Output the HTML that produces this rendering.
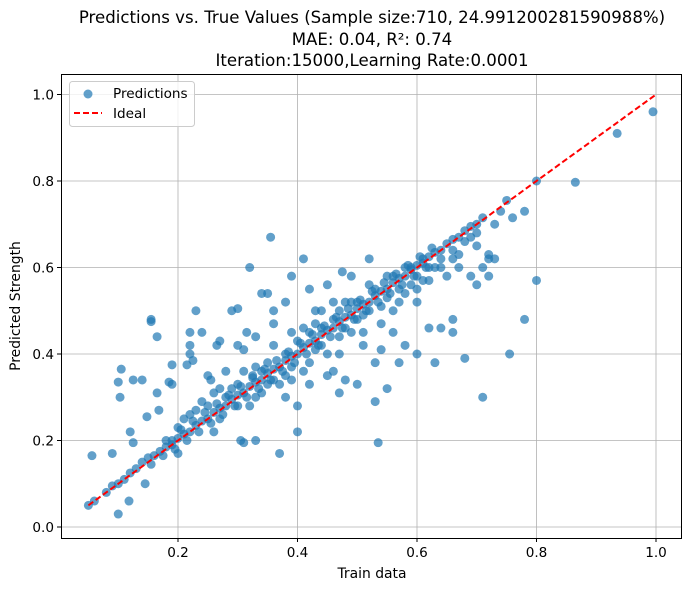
<!DOCTYPE html>
<html><head><meta charset="utf-8"><style>
body{margin:0;background:#fff;font-family:"DejaVu Sans","Liberation Sans",sans-serif;}
svg text{font-family:"DejaVu Sans","Liberation Sans",sans-serif;}
</style></head><body>
<svg id="c" width="691" height="589" xmlns="http://www.w3.org/2000/svg">
<text x="372" y="23" text-anchor="middle" font-size="16.6">Predictions vs. True Values (Sample size:710, 24.991200281590988%)</text>
<text x="372" y="45" text-anchor="middle" font-size="16.6">MAE: 0.04, R²: 0.74</text>
<text x="372" y="66" text-anchor="middle" font-size="16.6">Iteration:15000,Learning Rate:0.0001</text>
<g id="grid"></g><g id="pts"></g><g id="line"></g>
<rect x="61.5" y="74.5" width="620" height="464" fill="none" stroke="#000" stroke-width="1"/>
<g id="ticks"></g>
<text x="372" y="578" text-anchor="middle" font-size="13.9">Train data</text>
<text x="20" y="306" text-anchor="middle" font-size="13.9" transform="rotate(-90 20 306)">Predicted Strength</text>
<g>
<rect x="69.5" y="81.5" width="125" height="45" rx="3" fill="#fff" fill-opacity="0.8" stroke="#ccc"/>
<circle cx="88" cy="94" r="4.5" fill="#1f77b4" fill-opacity="0.7"/>
<text x="113" y="98" font-size="13.6">Predictions</text>
<line x1="74" y1="113" x2="102" y2="113" stroke="red" stroke-width="2" stroke-dasharray="6,3"/>
<text x="113" y="118" font-size="13.6">Ideal</text>
</g>
</svg>
<script>
const xTicks=[0.2,0.4,0.6,0.8,1.0];
const xTickLabels=["0.2","0.4","0.6","0.8","1.0"];
const yTicks=[0.0,0.2,0.4,0.6,0.8,1.0];
const yTickLabels=["0.0","0.2","0.4","0.6","0.8","1.0"];
const idealX=[0.05,1.0];
const idealY=[0.05,1.0];
const points=[[0.056,0.165],[0.09,0.17],[0.1,0.335],[0.105,0.365],[0.103,0.30],[0.1,0.03],[0.118,0.06],[0.12,0.22],[0.125,0.195],[0.125,0.34],[0.14,0.34],[0.148,0.255],[0.155,0.475],[0.155,0.48],[0.165,0.44],[0.165,0.31],[0.168,0.27],[0.145,0.10],[0.185,0.335],[0.19,0.375],[0.19,0.33],[0.19,0.20],[0.215,0.375],[0.22,0.40],[0.22,0.42],[0.22,0.45],[0.225,0.385],[0.23,0.50],[0.24,0.45],[0.25,0.35],[0.255,0.34],[0.26,0.31],[0.265,0.42],[0.27,0.43],[0.28,0.36],[0.29,0.50],[0.3,0.505],[0.3,0.42],[0.31,0.41],[0.305,0.20],[0.31,0.195],[0.315,0.45],[0.32,0.60],[0.325,0.35],[0.33,0.44],[0.33,0.20],[0.34,0.54],[0.35,0.54],[0.355,0.67],[0.36,0.47],[0.36,0.50],[0.37,0.17],[0.38,0.52],[0.39,0.58],[0.39,0.45],[0.4,0.22],[0.4,0.28],[0.41,0.62],[0.42,0.55],[0.43,0.50],[0.45,0.56],[0.46,0.52],[0.46,0.36],[0.47,0.31],[0.475,0.59],[0.48,0.34],[0.48,0.52],[0.49,0.58],[0.5,0.33],[0.51,0.45],[0.52,0.62],[0.53,0.38],[0.53,0.29],[0.535,0.195],[0.54,0.41],[0.55,0.32],[0.56,0.45],[0.57,0.38],[0.58,0.42],[0.59,0.60],[0.6,0.40],[0.61,0.62],[0.62,0.46],[0.63,0.38],[0.64,0.46],[0.65,0.58],[0.66,0.48],[0.66,0.45],[0.67,0.60],[0.68,0.39],[0.69,0.58],[0.7,0.56],[0.71,0.30],[0.72,0.58],[0.71,0.60],[0.72,0.62],[0.72,0.63],[0.73,0.62],[0.755,0.40],[0.78,0.48],[0.8,0.57],[0.76,0.715],[0.78,0.73],[0.8,0.80],[0.865,0.797],[0.935,0.91],[0.995,0.96],[0.5,0.48],[0.45,0.40],[0.42,0.38],[0.38,0.35],[0.35,0.33],[0.3,0.28],[0.27,0.25],[0.25,0.28],[0.24,0.29],[0.22,0.26],[0.2,0.23],[0.18,0.2],[0.35,0.38],[0.38,0.40],[0.42,0.45],[0.44,0.46],[0.47,0.44],[0.5,0.52],[0.52,0.5],[0.55,0.53],[0.57,0.55],[0.6,0.58],[0.62,0.6],[0.3,0.33],[0.28,0.3],[0.33,0.3],[0.36,0.34],[0.4,0.43],[0.43,0.41],[0.48,0.46],[0.53,0.55],[0.56,0.58],[0.59,0.56],[0.64,0.62],[0.66,0.64],[0.7,0.68],[0.74,0.73],
[0.05,0.05],[0.06,0.06],[0.08,0.08],[0.09,0.095],[0.1,0.1],[0.11,0.11],[0.12,0.125],[0.13,0.135],[0.14,0.15],[0.15,0.16],[0.16,0.165],[0.17,0.175],[0.18,0.185],[0.19,0.19],[0.2,0.205],[0.21,0.215],[0.22,0.22],[0.23,0.235],[0.24,0.245],[0.25,0.25],[0.26,0.265],[0.27,0.275],[0.28,0.28],[0.29,0.295],[0.3,0.305],[0.31,0.31],[0.32,0.325],[0.33,0.335],[0.34,0.34],[0.35,0.355],[0.36,0.365],[0.37,0.37],[0.38,0.385],[0.39,0.395],[0.4,0.4],[0.41,0.415],[0.42,0.425],[0.43,0.43],[0.44,0.445],[0.45,0.455],[0.46,0.46],[0.47,0.475],[0.48,0.485],[0.49,0.49],[0.5,0.505],[0.51,0.515],[0.52,0.52],[0.53,0.535],[0.54,0.545],[0.55,0.55],[0.56,0.565],[0.57,0.575],[0.58,0.58],[0.59,0.595],[0.6,0.605],[0.61,0.61],[0.62,0.625],[0.63,0.635],[0.64,0.64],[0.65,0.655],[0.66,0.665],[0.67,0.67],[0.68,0.685],[0.69,0.695],[0.7,0.7],[0.71,0.715],[0.75,0.755],
[0.155,0.145],[0.175,0.165],[0.195,0.18],[0.215,0.2],[0.235,0.22],[0.255,0.24],[0.275,0.26],[0.295,0.28],[0.315,0.3],[0.335,0.32],[0.355,0.34],[0.375,0.36],[0.395,0.38],[0.415,0.4],[0.435,0.42],[0.455,0.44],[0.475,0.46],[0.495,0.48],[0.515,0.5],[0.535,0.52],[0.555,0.54],[0.575,0.56],[0.595,0.58],[0.615,0.6],
[0.205,0.225],[0.225,0.245],[0.245,0.265],[0.265,0.285],[0.285,0.305],[0.305,0.325],[0.325,0.345],[0.345,0.365],[0.365,0.385],[0.385,0.405],[0.405,0.425],[0.425,0.445],[0.445,0.465],[0.465,0.485],[0.485,0.505],[0.505,0.525],[0.525,0.545],[0.545,0.565],[0.565,0.585],[0.585,0.605],[0.605,0.625],[0.625,0.645],
[0.29,0.32],[0.31,0.36],[0.33,0.37],[0.34,0.31],[0.37,0.33],[0.39,0.37],[0.41,0.36],[0.41,0.46],[0.43,0.47],[0.44,0.42],[0.46,0.48],[0.47,0.5],[0.49,0.45],[0.49,0.52],[0.51,0.49],[0.52,0.56],[0.54,0.51],[0.55,0.58],[0.57,0.52],[0.58,0.6],[0.6,0.55],[0.61,0.57],[0.63,0.6],[0.44,0.5],[0.45,0.35],[0.36,0.42],[0.34,0.36],[0.27,0.32],[0.23,0.27],[0.26,0.22],[0.2,0.17],[0.21,0.25],[0.32,0.28],[0.38,0.3],[0.39,0.34],[0.42,0.33],[0.47,0.4],[0.51,0.42],[0.54,0.47],[0.56,0.5],[0.58,0.54],[0.6,0.52],[0.62,0.57],[0.64,0.6],[0.66,0.62],[0.68,0.66],[0.69,0.67],[0.73,0.7],[0.7,0.65],[0.67,0.63]];
const X0=58.5,XS=597.5,Y0=527,YS=432.5;
function sx(v){return X0+v*XS;}
function sy(v){return Y0-v*YS;}
const NS="http://www.w3.org/2000/svg";
function mk(t,a,p){const e=document.createElementNS(NS,t);for(const k in a)e.setAttribute(k,a[k]);document.getElementById(p).appendChild(e);return e;}
xTicks.forEach((v,i)=>{
 const g=mk('line',{x1:sx(v),x2:sx(v),y1:74,y2:538,stroke:'#b0b0b0','stroke-width':0.8},'grid');
 
 
 const t=mk('line',{x1:sx(v),x2:sx(v),y1:538,y2:542,stroke:'#000'},'ticks');
 
 
 const l=mk('text',{x:sx(v),y:557,'text-anchor':'middle','font-size':13.6},'ticks');
 l.textContent=xTickLabels[i];
 
 
});
yTicks.forEach((v,i)=>{
 const g=mk('line',{x1:61,x2:682,y1:sy(v),y2:sy(v),stroke:'#b0b0b0','stroke-width':0.8},'grid');
 
 
 const t=mk('line',{x1:57,x2:61,y1:sy(v),y2:sy(v),stroke:'#000'},'ticks');
 
 
 const l=mk('text',{x:54,y:sy(v)+5,'text-anchor':'end','font-size':13.6},'ticks');
 l.textContent=yTickLabels[i];
 
 
});
points.forEach(p=>{
 const c=mk('circle',{cx:sx(p[0]),cy:sy(p[1]),r:4.5,fill:'#1f77b4','fill-opacity':0.7},'pts');
 
 
});
const il=mk('line',{x1:sx(idealX[0]),y1:sy(idealY[0]),x2:sx(idealX[1]),y2:sy(idealY[1]),stroke:'red','stroke-width':2,'stroke-dasharray':'6,3'},'line');


</script>
</body></html>
